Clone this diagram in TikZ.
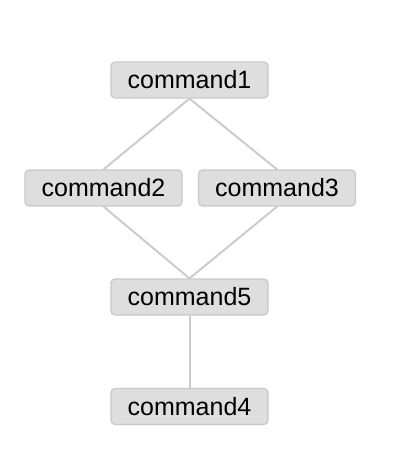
\documentclass[tikz,border=0pt]{standalone}
\usepackage{fontspec}
\setmainfont{Liberation Sans}
\definecolor{boxfill}{HTML}{DEDEDE}
\definecolor{boxline}{HTML}{C8C8C8}
\definecolor{edgecol}{HTML}{CCCCCC}
\begin{document}
\begin{tikzpicture}[x=1pt,y=-1pt,
  cmd/.style={draw=boxline, fill=boxfill, line width=1.2pt, rounded corners=4pt,
    minimum width=157pt, minimum height=36pt, inner sep=0pt,
    font=\fontsize{25}{30}\selectfont},
  edge/.style={draw=edgecol, line width=2pt}]
\useasboundingbox (0,0) rectangle (405,462);
\node[cmd] (c1) at (189.5,80) {command1};
\node[cmd] (c2) at (103.5,188) {command2};
\node[cmd] (c3) at (277,188) {command3};
\node[cmd] (c5) at (189.5,297) {command5};
\node[cmd] (c4) at (189.5,406.5) {command4};
\draw[edge] (c1.south) -- (c2.north);
\draw[edge] (c1.south) -- (c3.north);
\draw[edge] (c2.south) -- (c5.north);
\draw[edge] (c3.south) -- (c5.north);
\draw[edge] (c5.south) -- (c4.north);
\end{tikzpicture}
\end{document}
